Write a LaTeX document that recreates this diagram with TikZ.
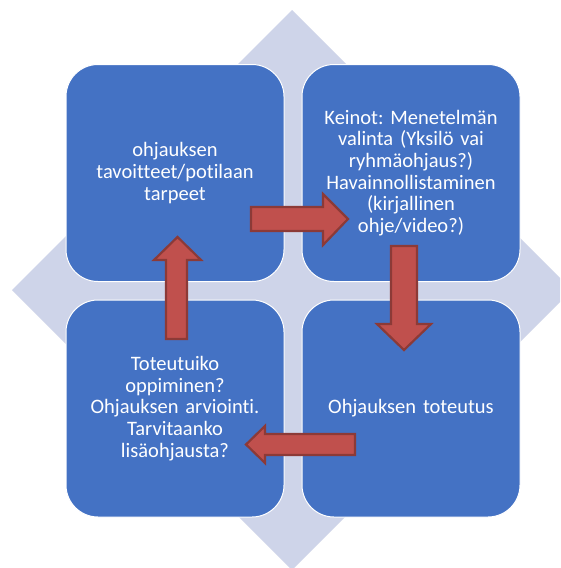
\documentclass[tikz,border=0pt]{standalone}
\usepackage{fontspec}
\setmainfont{Carlito}[Ligatures=NoCommon]
\definecolor{boxblue}{HTML}{4472C4}
\definecolor{diamondc}{HTML}{CED4E9}
\definecolor{arrowfill}{HTML}{C0504D}
\definecolor{arrowline}{HTML}{8C3A37}
\frenchspacing
\begin{document}
\begin{tikzpicture}[x=1pt,y=-1pt,
  quad/.style={draw=white,line width=1pt,fill=boxblue,rounded corners=32pt,minimum width=218pt,minimum height=217pt,inner sep=0pt,text=white,align=center,font=\fontsize{20.5}{21.7}\selectfont,text width=206pt},
  blockarrow/.style={fill=arrowfill,draw=arrowline,line width=2.2pt,line join=miter}]
\useasboundingbox (0,0) rectangle (560,568);
\clip (0,0) rectangle (560,568);
\fill[white] (0,0) rectangle (560,568);
\fill[diamondc] (292,10) -- (572,290) -- (292,570) -- (12,290) -- cycle;
\node[quad] (tl) at (175,173) {ohjauksen\\tavoitteet/potilaan\\tarpeet};
\node[quad] (tr) at (411,173) {Keinot: Menetelmän\\valinta (Yksilö vai\\ryhmäohjaus?)\\Havainnollistaminen\\(kirjallinen\\ohje/video?)};
\node[quad] (bl) at (175,408.5) {Toteutuiko\\oppiminen?\\Ohjauksen arviointi.\\Tarvitaanko\\lisäohjausta?};
\node[quad] (br) at (411,408.5) {Ohjauksen toteutus};
% right arrow
\draw[blockarrow] (251,207) -- (323,207) -- (323,194) -- (348,219) -- (323,245) -- (323,231) -- (251,231) -- cycle;
% down arrow
\draw[blockarrow] (391,246) -- (417,246) -- (417,324) -- (431,324) -- (404,350) -- (377,324) -- (391,324) -- cycle;
% left arrow
\draw[blockarrow] (355,434) -- (265,434) -- (265,426) -- (246,444.5) -- (265,463) -- (265,455) -- (355,455) -- cycle;
% up arrow
\draw[blockarrow] (166,339) -- (166,260) -- (154,260) -- (177.5,237) -- (201,260) -- (187,260) -- (187,339) -- cycle;
\end{tikzpicture}
\end{document}
